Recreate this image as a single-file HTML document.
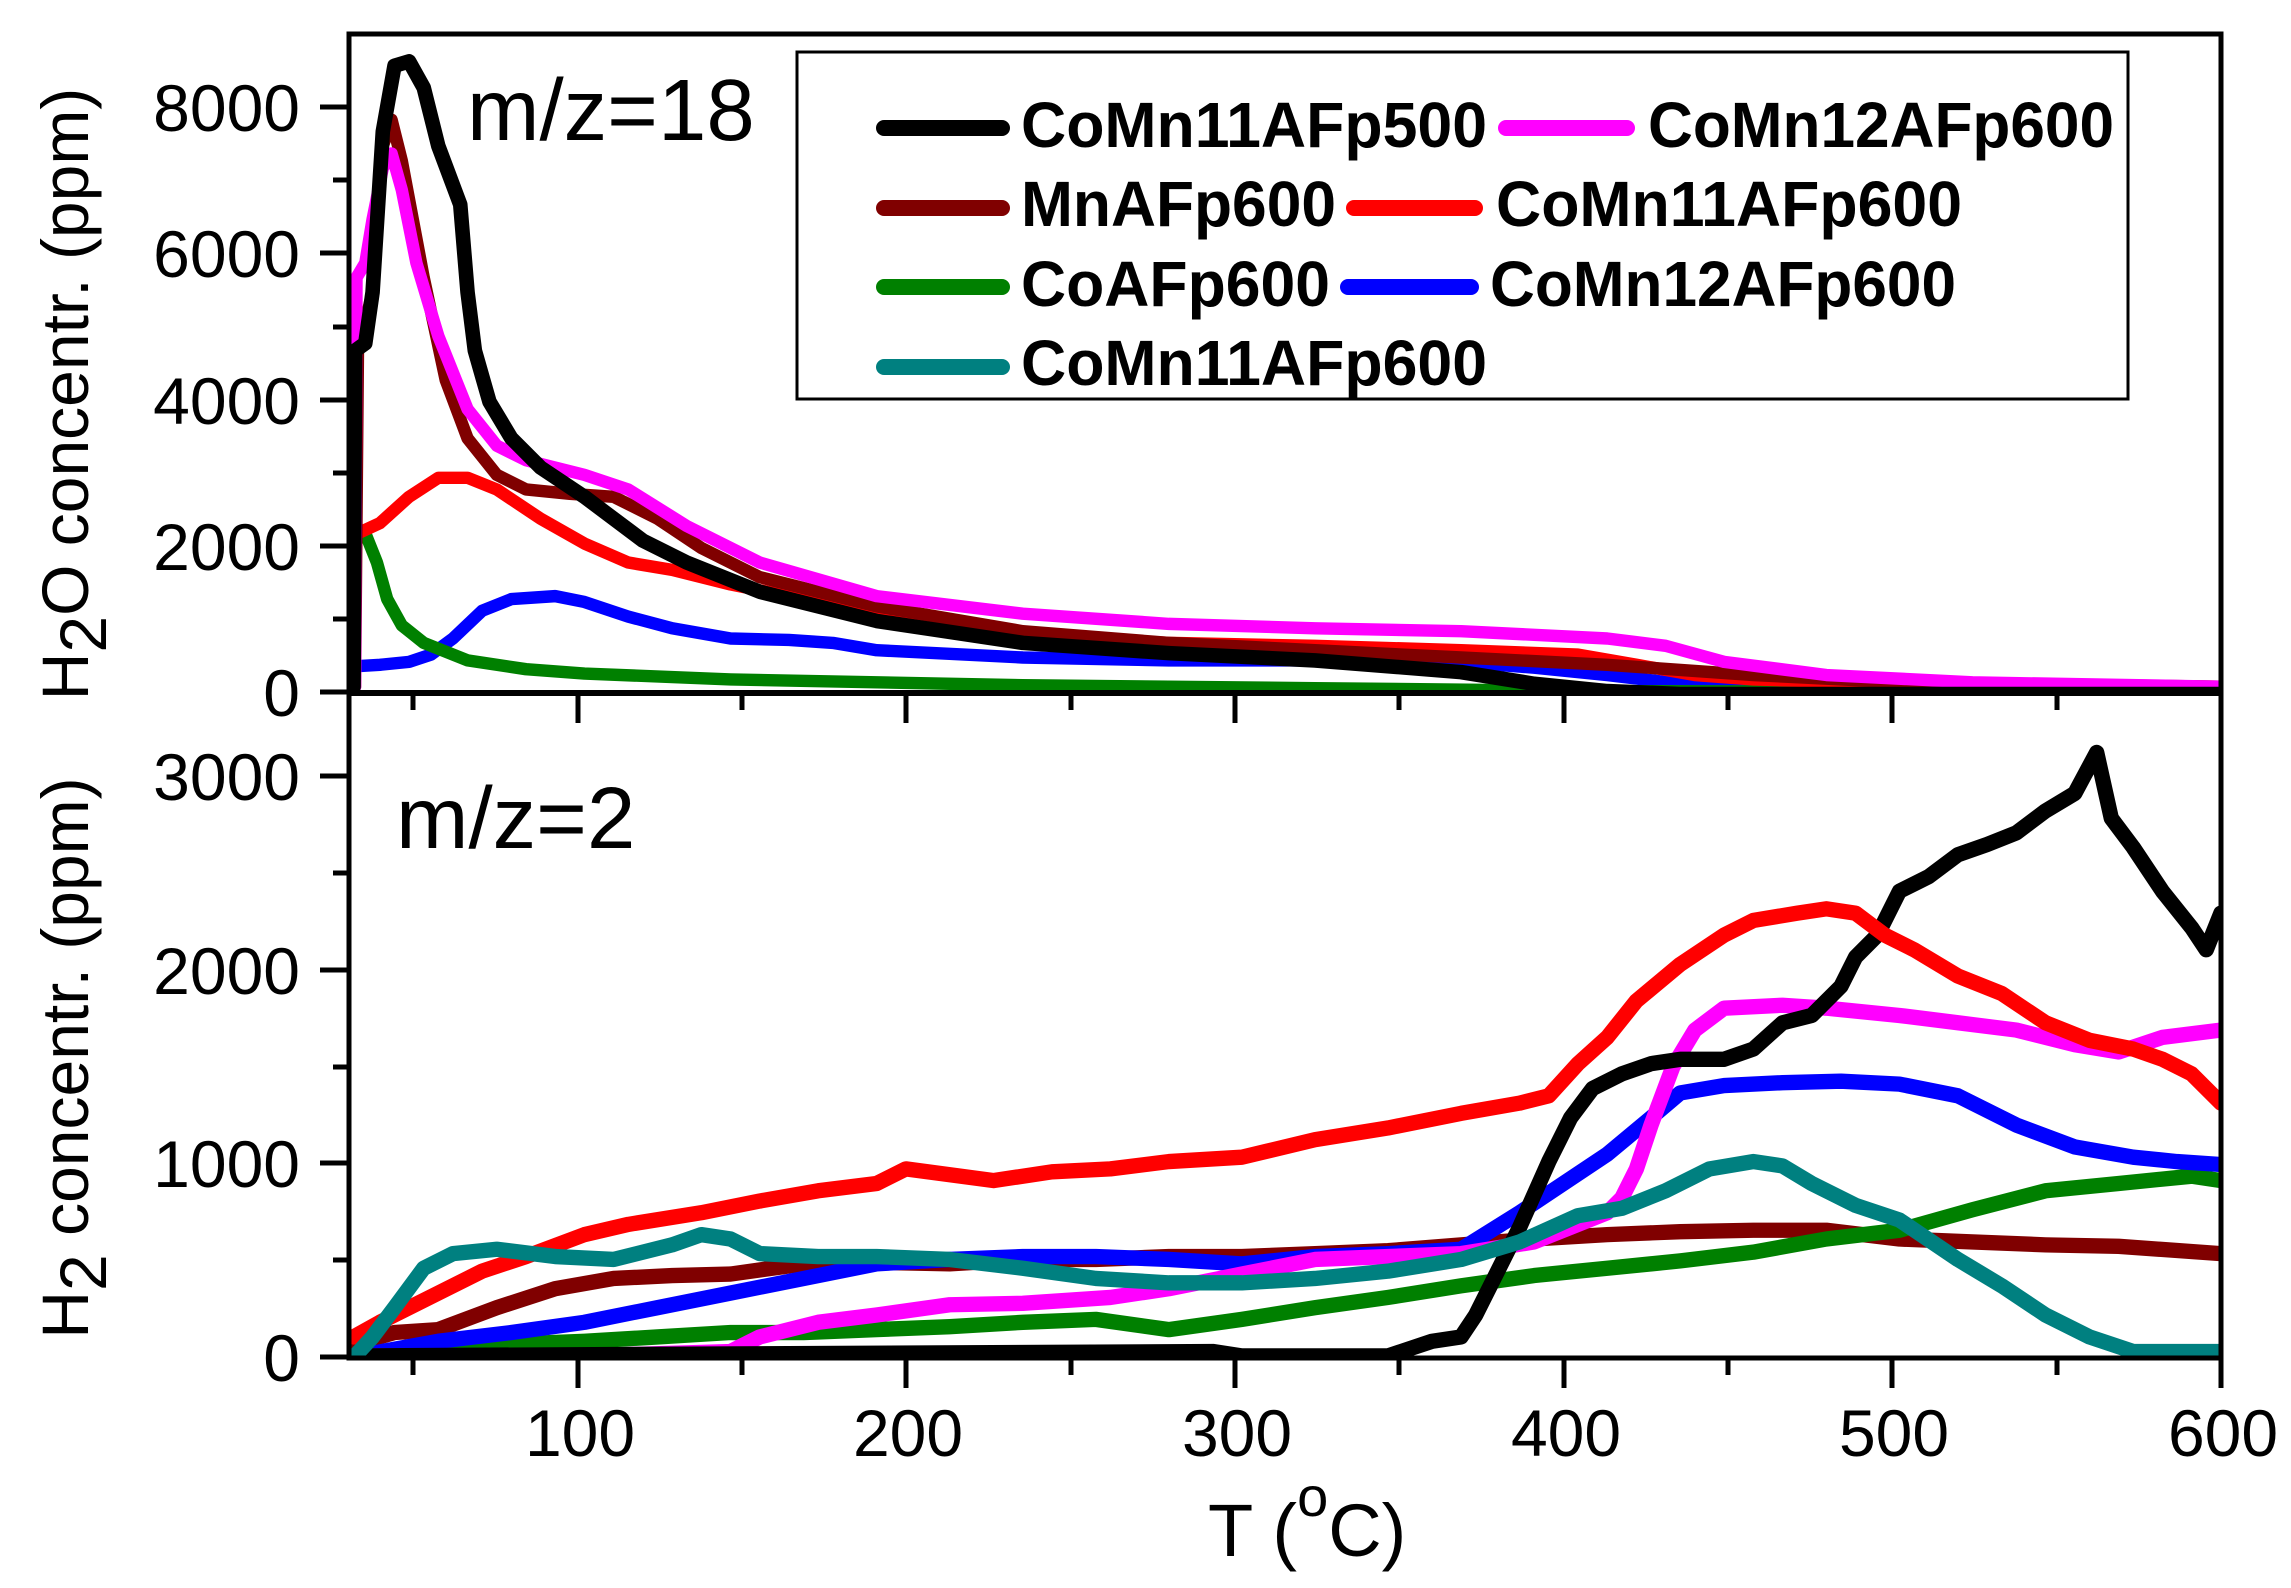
<!DOCTYPE html>
<html><head><meta charset="utf-8"><style>html,body{margin:0;padding:0;background:#fff}svg{display:block}</style></head>
<body>
<svg width="2291" height="1588" viewBox="0 0 2291 1588" xmlns="http://www.w3.org/2000/svg" font-family="Liberation Sans, Arial, sans-serif">
<rect width="2291" height="1588" fill="#fff"/>
<defs><clipPath id="cu"><rect x="349" y="34" width="1872" height="659"/></clipPath>
<clipPath id="cl"><rect x="349" y="693" width="1872" height="665"/></clipPath></defs>

<!-- upper curves -->
<g clip-path="url(#cu)"><g transform="scale(1.4611)" fill="none" stroke-linejoin="round" stroke-linecap="round">
<path stroke="#0000ff" stroke-width="8.5" d="M243,456 L260,455 L280,453 L295,448 L310,437 L330,418 L350,410 L380,408 L400,412 L430,422 L460,430 L500,437 L540,438 L570,440 L600,445 L700,450 L800,452 L900,452 L1000,453 L1050,457 L1100,462 L1150,468 L1520,472"/>
<path stroke="#008000" stroke-width="8.5" d="M246,368 L250,365 L258,385 L265,410 L275,428 L290,440 L320,452 L360,458 L400,461 L500,465 L700,469 L900,471 L1100,473 L1520,474"/>
<path stroke="#ff0000" stroke-width="8.5" d="M245,365 L260,358 L280,340 L300,327 L320,327 L340,335 L370,355 L400,372 L430,385 L460,390 L500,400 L560,412 L600,420 L700,435 L800,440 L900,442 L1000,445 L1080,448 L1120,455 L1160,462 L1200,465 L1300,468 L1520,470"/>
<path stroke="#800000" stroke-width="8.5" d="M243,470 L245,240 L255,200 L262,100 L268,82 L275,110 L290,190 L305,260 L320,300 L340,325 L360,335 L390,338 L420,340 L450,355 L480,375 L520,395 L600,415 L700,432 L800,440 L900,445 L1000,450 L1100,455 L1200,462 L1300,467 L1520,470"/>
<path stroke="#ff00ff" stroke-width="8.5" d="M243,470 L244,190 L250,180 L255,150 L262,115 L268,105 L275,130 L285,180 L300,230 L320,280 L340,305 L360,315 L400,325 L430,335 L470,360 L520,385 L600,408 L700,420 L800,427 L900,430 L1000,432 L1100,437 L1140,442 L1180,453 L1250,462 L1350,467 L1520,470"/>
<path stroke="#000" stroke-width="10" d="M242,470 L243,240 L250,235 L255,200 L262,90 L270,45 L280,42 L290,60 L300,100 L315,140 L320,200 L325,240 L335,275 L350,300 L370,320 L400,340 L440,370 L470,385 L520,405 L600,425 L700,440 L800,447 L900,452 L1000,460 L1050,468 L1100,473 L1150,475 L1520,475"/>
</g></g>

<!-- lower curves -->
<g clip-path="url(#cl)"><g transform="scale(1.4611)" fill="none" stroke-linejoin="round" stroke-linecap="round" stroke-width="10.5">
<path stroke="#800000" d="M242,920 L270,912 L300,910 L340,895 L380,882 L420,875 L460,873 L500,872 L550,865 L600,864 L650,865 L700,862 L750,862 L800,860 L850,860 L900,858 L950,856 L1000,852 L1050,848 L1100,845 L1150,843 L1200,842 L1250,842 L1300,848 L1350,850 L1400,852 L1450,853 L1520,858"/>
<path stroke="#008000" d="M245,928 L300,922 L350,920 L400,918 L450,915 L500,912 L550,912 L600,910 L650,908 L700,905 L750,903 L800,910 L850,903 L900,895 L950,888 L1000,880 L1050,873 L1100,868 L1150,863 L1200,857 L1250,848 L1300,842 L1350,828 L1400,815 L1450,810 L1500,805 L1520,808"/>
<path stroke="#0000ff" d="M245,928 L300,918 L350,912 L400,905 L450,895 L500,885 L550,875 L600,865 L650,862 L700,860 L750,860 L800,862 L850,865 L900,860 L950,858 L1000,855 L1040,830 L1070,810 L1100,790 L1130,765 L1150,748 L1180,743 L1220,741 L1260,740 L1300,742 L1340,750 L1380,770 L1420,785 L1460,792 L1490,795 L1520,797"/>
<path stroke="#ff00ff" d="M250,928 L400,928 L500,925 L520,915 L560,905 L600,900 L650,893 L700,892 L760,888 L800,882 L850,872 L900,862 L950,860 L1000,858 L1050,850 L1080,838 L1100,830 L1110,820 L1120,800 L1130,770 L1145,730 L1160,705 L1180,690 L1220,688 L1250,690 L1300,695 L1340,700 L1380,705 L1420,715 L1450,720 L1480,710 L1520,705"/>
<path stroke="#000" d="M242,928 L830,925 L850,928 L950,928 L980,918 L1000,915 L1010,900 L1020,880 L1040,840 L1060,795 L1075,765 L1090,745 L1110,735 L1130,728 L1150,725 L1180,725 L1200,718 L1220,700 L1240,695 L1260,675 L1270,655 L1285,640 L1300,610 L1320,600 L1340,585 L1360,578 L1380,570 L1400,555 L1420,543 L1435,515 L1445,560 L1460,580 L1480,610 L1500,635 L1510,650 L1520,625"/>
<path stroke="#ff0000" d="M242,915 L260,905 L280,895 L300,885 L330,870 L360,860 L400,845 L430,838 L480,830 L520,822 L560,815 L600,810 L620,800 L680,808 L720,802 L760,800 L800,795 L850,792 L900,780 L950,772 L1000,762 L1040,755 L1060,750 L1080,728 L1100,710 L1120,685 L1150,660 L1180,640 L1200,630 L1230,625 L1250,622 L1270,625 L1290,640 L1310,650 L1340,668 L1370,680 L1400,700 L1430,712 L1460,718 L1480,725 L1500,735 L1520,755"/>
<path stroke="#008080" d="M243,928 L255,915 L270,895 L290,868 L310,858 L340,855 L380,860 L420,862 L460,852 L480,845 L500,848 L520,858 L560,860 L600,860 L650,862 L700,868 L750,875 L800,878 L850,878 L900,875 L950,870 L1000,862 L1040,850 L1080,832 L1110,827 L1140,815 L1170,800 L1200,795 L1220,798 L1240,810 L1270,825 L1300,835 L1340,862 L1370,880 L1400,900 L1430,915 L1460,925 L1520,925"/>
</g></g>

<!-- axes -->
<g stroke="#000" fill="none">
<rect x="349" y="34" width="1872" height="1324" stroke-width="5"/>
<line x1="349" y1="693" x2="2221" y2="693" stroke-width="6"/>
</g>
<g stroke="#000" stroke-width="5">
<line x1="320" y1="692" x2="349" y2="692"/><line x1="320" y1="546" x2="349" y2="546"/><line x1="320" y1="400" x2="349" y2="400"/><line x1="320" y1="253" x2="349" y2="253"/><line x1="320" y1="107" x2="349" y2="107"/>
<line x1="333" y1="619" x2="349" y2="619"/><line x1="333" y1="473" x2="349" y2="473"/><line x1="333" y1="327" x2="349" y2="327"/><line x1="333" y1="180" x2="349" y2="180"/>
<line x1="320" y1="1357" x2="349" y2="1357"/><line x1="320" y1="1163" x2="349" y2="1163"/><line x1="320" y1="970" x2="349" y2="970"/><line x1="320" y1="776" x2="349" y2="776"/>
<line x1="333" y1="1260" x2="349" y2="1260"/><line x1="333" y1="1067" x2="349" y2="1067"/><line x1="333" y1="873" x2="349" y2="873"/>
</g>
<g stroke="#000" stroke-width="5">
<line x1="578" y1="693" x2="578" y2="723"/><line x1="906" y1="693" x2="906" y2="723"/><line x1="1235" y1="693" x2="1235" y2="723"/><line x1="1564" y1="693" x2="1564" y2="723"/><line x1="1892" y1="693" x2="1892" y2="723"/>
<line x1="413" y1="693" x2="413" y2="710"/><line x1="742" y1="693" x2="742" y2="710"/><line x1="1071" y1="693" x2="1071" y2="710"/><line x1="1399" y1="693" x2="1399" y2="710"/><line x1="1728" y1="693" x2="1728" y2="710"/><line x1="2057" y1="693" x2="2057" y2="710"/>
<line x1="578" y1="1358" x2="578" y2="1388"/><line x1="906" y1="1358" x2="906" y2="1388"/><line x1="1235" y1="1358" x2="1235" y2="1388"/><line x1="1564" y1="1358" x2="1564" y2="1388"/><line x1="1892" y1="1358" x2="1892" y2="1388"/><line x1="2221" y1="1358" x2="2221" y2="1388"/>
<line x1="413" y1="1358" x2="413" y2="1375"/><line x1="742" y1="1358" x2="742" y2="1375"/><line x1="1071" y1="1358" x2="1071" y2="1375"/><line x1="1399" y1="1358" x2="1399" y2="1375"/><line x1="1728" y1="1358" x2="1728" y2="1375"/><line x1="2057" y1="1358" x2="2057" y2="1375"/>
</g>

<g font-size="66" text-anchor="end" fill="#000">
<text x="300" y="716">0</text><text x="300" y="570">2000</text><text x="300" y="424">4000</text><text x="300" y="277">6000</text><text x="300" y="131">8000</text>
<text x="300" y="1381">0</text><text x="300" y="1187">1000</text><text x="300" y="994">2000</text><text x="300" y="800">3000</text>
</g>
<g font-size="66" text-anchor="middle" fill="#000">
<text x="580" y="1456">100</text><text x="908" y="1456">200</text><text x="1237" y="1456">300</text><text x="1566" y="1456">400</text><text x="1894" y="1456">500</text><text x="2223" y="1456">600</text>
</g>

<text x="1208" y="1556" font-size="74" fill="#000">T (<tspan font-size="56" dy="-40">o</tspan><tspan dy="40">C)</tspan></text>
<text transform="translate(88,394) rotate(-90)" font-size="66" text-anchor="middle" fill="#000">H<tspan dy="18">2</tspan><tspan dy="-18">O concentr. (ppm)</tspan></text>
<text transform="translate(88,1058) rotate(-90)" font-size="66" text-anchor="middle" fill="#000">H<tspan dy="18">2</tspan><tspan dy="-18"> concentr. (ppm)</tspan></text>

<text x="467" y="140" font-size="87" fill="#000">m/z=18</text>
<text x="396" y="848" font-size="87" fill="#000">m/z=2</text>

<rect x="797" y="52" width="1331" height="347" fill="none" stroke="#000" stroke-width="3"/>
<g stroke-width="16" stroke-linecap="round">
<line x1="884" y1="128" x2="1002" y2="128" stroke="#000"/>
<line x1="1506" y1="128" x2="1627" y2="128" stroke="#ff00ff"/>
<line x1="884" y1="208" x2="1002" y2="208" stroke="#800000"/>
<line x1="1354" y1="208" x2="1475" y2="208" stroke="#ff0000"/>
<line x1="884" y1="287" x2="1002" y2="287" stroke="#008000"/>
<line x1="1348" y1="287" x2="1471" y2="287" stroke="#0000ff"/>
<line x1="884" y1="367" x2="1002" y2="367" stroke="#008080"/>
</g>
<g font-size="64" font-weight="bold" fill="#000">
<text x="1021" y="147" textLength="466" lengthAdjust="spacingAndGlyphs">CoMn11AFp500</text>
<text x="1648" y="147" textLength="466" lengthAdjust="spacingAndGlyphs">CoMn12AFp600</text>
<text x="1021" y="226" textLength="315" lengthAdjust="spacingAndGlyphs">MnAFp600</text>
<text x="1496" y="226" textLength="466" lengthAdjust="spacingAndGlyphs">CoMn11AFp600</text>
<text x="1021" y="306" textLength="309" lengthAdjust="spacingAndGlyphs">CoAFp600</text>
<text x="1490" y="306" textLength="466" lengthAdjust="spacingAndGlyphs">CoMn12AFp600</text>
<text x="1021" y="385" textLength="466" lengthAdjust="spacingAndGlyphs">CoMn11AFp600</text>
</g>
</svg>
</body></html>
